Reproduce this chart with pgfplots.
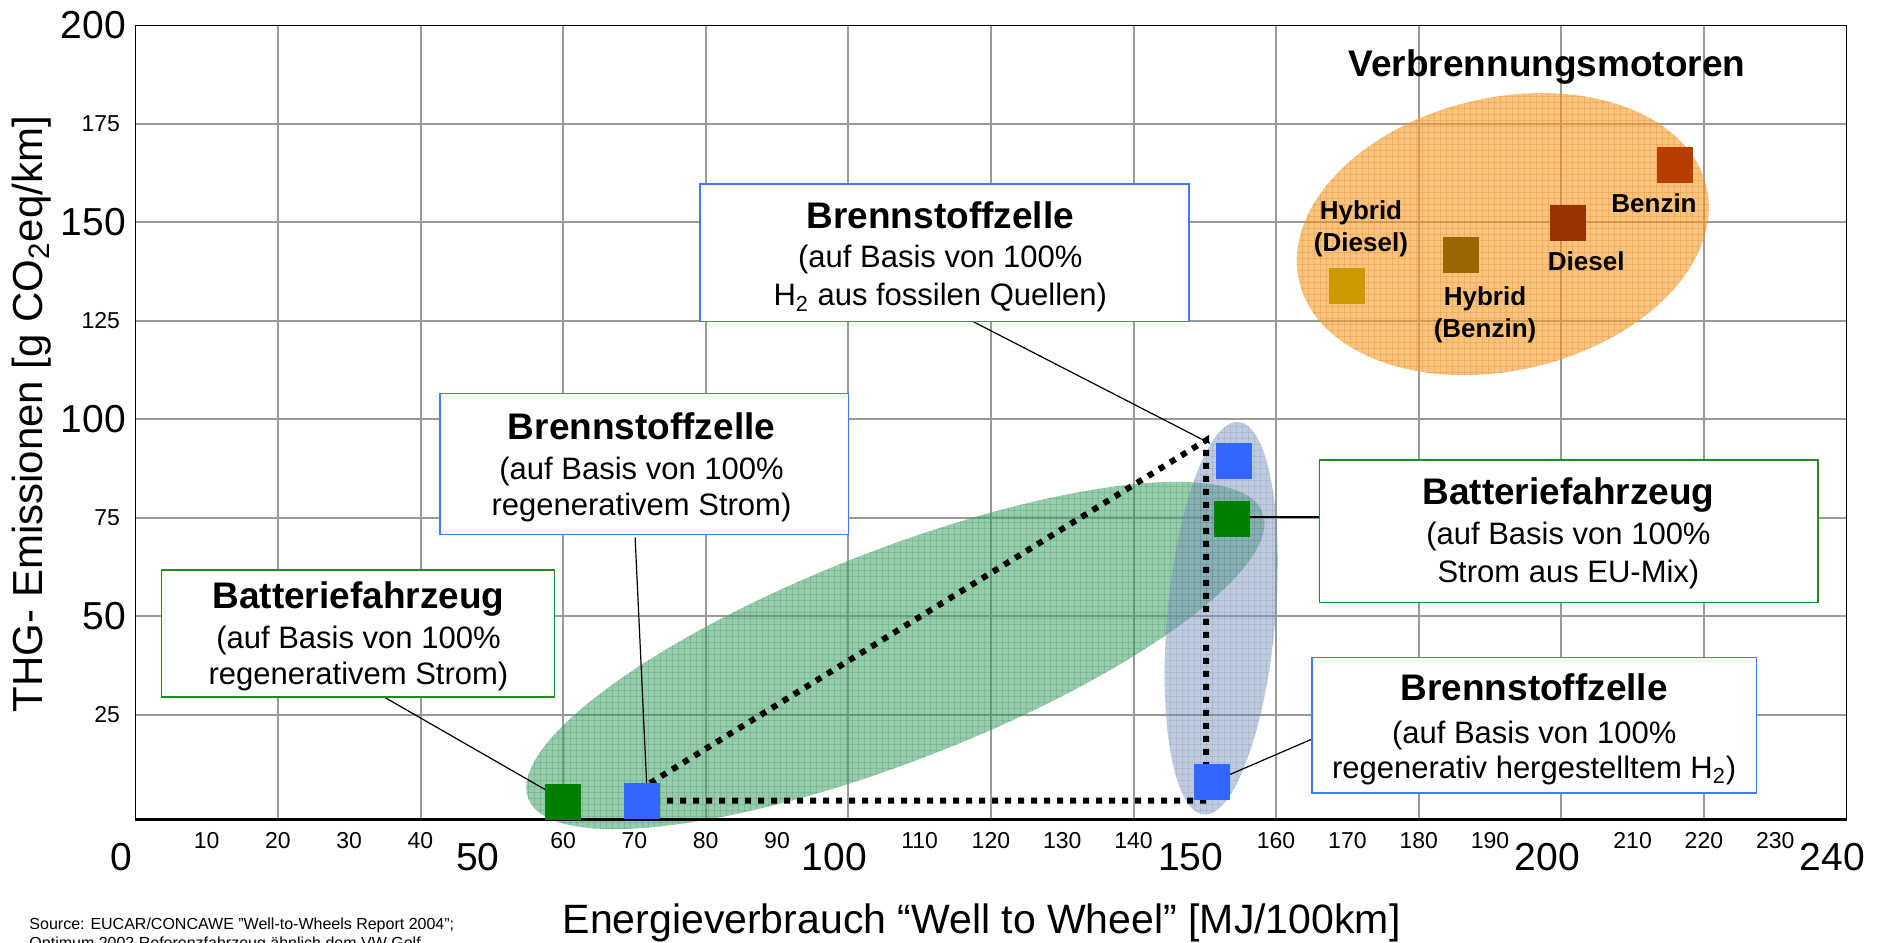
\documentclass[border=0pt]{standalone}
\usepackage{fontspec}
\setmainfont{Liberation Sans}
\usepackage{pgfplots}
\pgfplotsset{compat=1.18}
\usetikzlibrary{patterns}
\definecolor{gridgray}{HTML}{9A9A9A}
\definecolor{battgreen}{HTML}{008000}
\definecolor{fcblue}{HTML}{3366FF}
\definecolor{hybdiesel}{HTML}{CC9900}
\definecolor{hybbenzin}{HTML}{996600}
\definecolor{dieselc}{HTML}{993300}
\definecolor{benzinc}{HTML}{B83E00}
\definecolor{ellgreen}{HTML}{3FA568}
\definecolor{ellblue}{HTML}{7A93BD}
\definecolor{ellorange}{HTML}{F5A030}
\definecolor{boxgreen}{HTML}{1E8C1E}
\definecolor{boxblue}{HTML}{3D7BFF}
\pgfplotsset{sq/.style={only marks, mark=square*, mark size=8.75pt, color=#1, mark options={draw=#1, fill=#1, line width=0pt}}}
\begin{document}
\begin{tikzpicture}
\begin{axis}[
  at={(0,0)}, anchor=south west,
  scale only axis, width=855.6pt, height=396.95pt,
  xmin=0, xmax=240, ymin=-1.5, ymax=200,
  clip=false,
  axis line style={black, line width=0.7pt},
  /pgf/number format/assume math mode=true,
  xtick={10,20,30,40,60,70,80,90,110,120,130,140,160,170,180,190,210,220,230},
  ytick={25,75,125,175},
  major tick length=0pt,
  minor tick length=0pt,
  minor xtick={20,40,...,220},
  minor ytick={25,50,...,175},
  xmajorgrids=false, ymajorgrids=false,
  xminorgrids=true, yminorgrids=true,
  minor grid style={gridgray, line width=1pt},
  xticklabel style={font=\fontsize{11.5}{12}\selectfont, anchor=center, yshift=-10.5pt},
  yticklabel style={font=\fontsize{11.5}{12}\selectfont, anchor=east, inner sep=0pt, xshift=-7.5pt},
  extra x ticks={0,50,100,150,200,240},
  extra y ticks={50,100,150,200},
  extra x tick style={grid=none, xticklabel style={font=\fontsize{19.5}{20}\selectfont, yshift=-8.5pt, xshift=-7pt}},
  extra y tick style={grid=none, yticklabel style={font=\fontsize{19.5}{20}\selectfont, xshift=3pt}},
]
\coordinate (SW) at (rel axis cs:0,0);

% square beneath the green ellipse
\addplot[sq=battgreen] coordinates {(60.05,2.9)};

% ellipses
\fill[ellgreen, opacity=0.55, rotate around={21.3:(axis cs:106.6,40.05)}] (axis cs:106.6,40.05) ellipse [x radius=197pt, y radius=52.7pt];
\path[pattern=grid, pattern color=ellgreen!60!black, opacity=0.18, rotate around={21.3:(axis cs:106.6,40.05)}] (axis cs:106.6,40.05) ellipse [x radius=197pt, y radius=52.7pt];
\fill[ellblue, opacity=0.48, rotate around={84.9:(axis cs:152.3,49.5)}] (axis cs:152.3,49.5) ellipse [x radius=98.5pt, y radius=27pt];
\path[pattern=grid, pattern color=ellblue!70!black, opacity=0.15, rotate around={84.9:(axis cs:152.3,49.5)}] (axis cs:152.3,49.5) ellipse [x radius=98.5pt, y radius=27pt];
\fill[ellorange, opacity=0.62, rotate around={13:(axis cs:191.8,147.0)}] (axis cs:191.8,147.0) ellipse [x radius=104.5pt, y radius=68.2pt];
\path[pattern=grid, pattern color=orange!90!black, opacity=0.25, rotate around={13:(axis cs:191.8,147.0)}] (axis cs:191.8,147.0) ellipse [x radius=104.5pt, y radius=68.2pt];

% vehicles
\addplot[sq=fcblue] coordinates {(71.0,3.1) (154.1,89.4) (151.0,8.0)};
\addplot[sq=battgreen] coordinates {(153.8,74.7)};
\addplot[sq=hybdiesel] coordinates {(169.9,133.9)};
\addplot[sq=hybbenzin] coordinates {(185.9,141.8)};
\addplot[sq=dieselc] coordinates {(200.9,149.7)};
\addplot[sq=benzinc] coordinates {(216.0,164.5)};

% dotted triangle
\addplot[black, no markers, line width=3pt, dash pattern=on 3pt off 3.5pt] coordinates {(69.1,4.2) (150.2,94.7) (150.2,3.2) (69.6,3.2)};

% bottom axis line thicker
\draw[black, line width=1.4pt] (rel axis cs:0,0) -- (rel axis cs:1,0);

% connectors
\draw[black, line width=0.6pt] (axis cs:34.9,29.5) -- (axis cs:57.6,5.9);
\draw[black, line width=0.6pt] (axis cs:70.1,70.0) -- (axis cs:71.8,4.4);
\draw[black, line width=0.6pt] (axis cs:117.5,124.8) -- (axis cs:150.7,93.9);
\draw[black, line width=0.6pt] (axis cs:154.0,75.2) -- (axis cs:166.1,75.2);
\draw[black, line width=0.6pt] (axis cs:151.4,8.2) -- (axis cs:165.0,18.8);

% boxes
\draw[boxgreen, line width=0.75pt, fill=white] (axis cs:3.65,29.5) rectangle (axis cs:58.8,61.8);
\draw[boxblue, line width=0.75pt, fill=white] (axis cs:42.7,70.8) rectangle (axis cs:100,106.5);
\draw[boxblue, line width=0.75pt, fill=white] (axis cs:79.2,124.8) rectangle (axis cs:147.8,159.7);
\draw[boxgreen, line width=0.75pt, fill=white] (axis cs:166.1,53.5) rectangle (axis cs:236,89.7);
\draw[boxblue, line width=0.75pt, fill=white] (axis cs:165,5.2) rectangle (axis cs:227.4,39.6);

\tikzset{bt/.style={anchor=base, inner sep=0pt, font=\fontsize{18.5}{20}\selectfont\bfseries},
         rt/.style={anchor=base, inner sep=0pt, font=\fontsize{15.5}{18}\selectfont},
         ot/.style={anchor=base, inner sep=0pt, font=\fontsize{13}{16}\selectfont\bfseries}}

\node[bt] at (axis cs:31.3,51.9) {Batteriefahrzeug};
\node[rt] at (axis cs:31.3,41.7) {(auf Basis von 100\%};
\node[rt] at (axis cs:31.3,32.6) {regenerativem Strom)};

\node[bt] at (axis cs:71.0,94.85) {Brennstoffzelle};
\node[rt] at (axis cs:71.0,84.7) {(auf Basis von 100\%};
\node[rt] at (axis cs:71.0,75.7) {regenerativem Strom)};

\node[bt] at (axis cs:112.9,148.5) {Brennstoffzelle};
\node[rt] at (axis cs:112.9,138.5) {(auf Basis von 100\%};
\node[rt] at (axis cs:112.9,128.8) {H\textsubscript{2} aus fossilen Quellen)};

\node[bt] at (axis cs:201.0,78.5) {Batteriefahrzeug};
\node[rt] at (axis cs:201.0,68.3) {(auf Basis von 100\%};
\node[rt] at (axis cs:201.0,58.7) {Strom aus EU-Mix)};

\node[bt] at (axis cs:196.2,28.6) {Brennstoffzelle};
\node[rt] at (axis cs:196.2,17.6) {(auf Basis von 100\%};
\node[rt] at (axis cs:196.2,8.8) {regenerativ hergestelltem H\textsubscript{2})};

\node[bt] at (axis cs:198.0,186.9) {Verbrennungsmotoren};
\node[ot] at (axis cs:171.9,150.8) {Hybrid};
\node[ot] at (axis cs:171.9,142.5) {(Diesel)};
\node[ot] at (axis cs:189.3,129.0) {Hybrid};
\node[ot] at (axis cs:189.3,120.8) {(Benzin)};
\node[ot] at (axis cs:203.5,137.7) {Diesel};
\node[ot] at (axis cs:213.0,152.5) {Benzin};

% axis labels
\node[anchor=base, inner sep=0pt, font=\fontsize{20.5}{22}\selectfont] at (axis cs:118.7,-30.6) {Energieverbrauch “Well to Wheel” [MJ/100km]};
\node[rotate=90, anchor=center, inner sep=0pt, font=\fontsize{21}{22}\selectfont] at (axis cs:-14.5,101.3) {THG- Emissionen [g CO\textsubscript{2}eq/km]};

% source
\node[anchor=base west, inner sep=0pt, font=\fontsize{8}{9.5}\selectfont] at (axis cs:-14.9,-29.6) {Source: EUCAR/CONCAWE "Well-to-Wheels Report 2004";};
\node[anchor=base west, inner sep=0pt, font=\fontsize{8}{9.5}\selectfont] at (axis cs:-14.9,-34.3) {Optimum 2002 Referenzfahrzeug ähnlich dem VW Golf};
\end{axis}
\pgfresetboundingbox
\path[use as bounding box] (SW) ++(-67.65pt,-61.4pt) rectangle ++(941.5pt,471pt);
\end{tikzpicture}
\end{document}
